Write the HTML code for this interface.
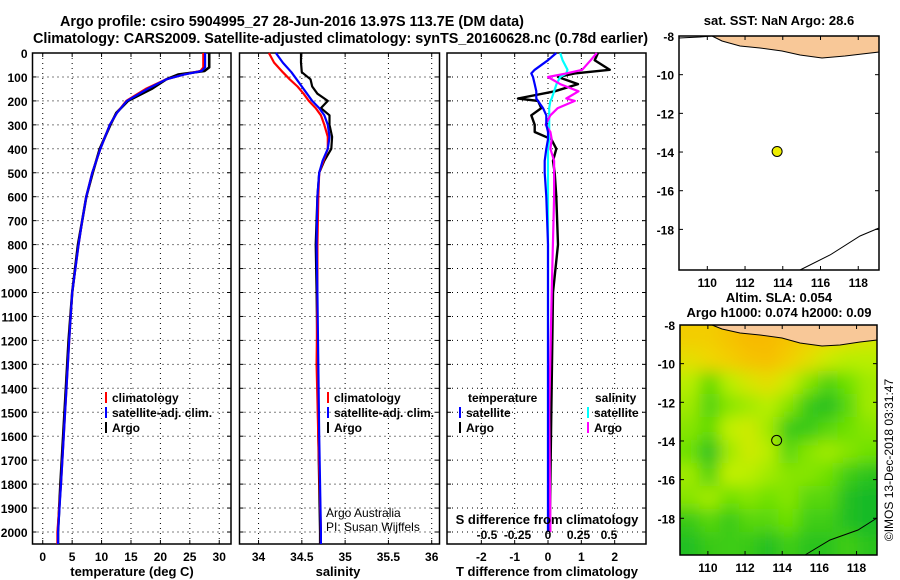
<!DOCTYPE html>
<html><head><meta charset="utf-8"><style>
html,body{margin:0;padding:0;background:#fff;}
svg{display:block;font-family:"Liberation Sans",sans-serif;}
.t{font-weight:bold;font-size:13px;}
.tt{font-weight:bold;font-size:14.4px;}
.tk{font-weight:bold;font-size:12px;}
.lg{font-weight:bold;font-size:12px;}
</style></head><body>
<svg id="chart" width="900" height="580" viewBox="0 0 900 580" xmlns="http://www.w3.org/2000/svg">
<defs>
<filter id="blur" x="0" y="0" width="1" height="1"><feGaussianBlur stdDeviation="8"/></filter>
<clipPath id="m2clip"><rect x="680" y="325" width="197" height="230"/></clipPath>
</defs>
<text class="tt" x="60" y="26">Argo profile: csiro 5904995_27 28-Jun-2016 13.97S 113.7E (DM data)</text>
<text class="tt" x="33" y="43" textLength="615">Climatology: CARS2009. Satellite-adjusted climatology: synTS_20160628.nc (0.78d earlier)</text>
<g id="p1"></g>
<g id="p2"></g>
<g id="p3"></g>
<g id="m1"></g>
<g id="m2"></g>
<text class="tk" x="0" y="0" transform="translate(893,460) rotate(-90)" text-anchor="middle" style="font-weight:normal">©IMOS 13-Dec-2018 03:31:47</text>
</svg>
<script>
// ---- data ----
const depthTicks = [0,100,200,300,400,500,600,700,800,900,1000,1100,1200,1300,1400,1500,1600,1700,1800,1900,2000];
const tempTicks = [0,5,10,15,20,25,30];
const salTicks = [34,34.5,35,35.5,36];
const salTickLabels = ["34","34.5","35","35.5","36"];
const tdiffTicks = [-2,-1,0,1,2];
const sdiffTicks = [-0.5,-0.25,0,0.25,0.5];
const sdiffTickLabels = ["-0.5","-0.25","0","0.25","0.5"];

const tDepth = [0,60,75,90,110,150,200,250,300,400,500,600,700,800,1000,1200,1500,1800,2000,2050];
const tempArgo = [28.3,28.3,27.5,23,21,18.5,14.5,12.5,11.5,9.7,8.5,7.4,6.7,6,5,4.4,3.7,3,2.6,2.6];
const tempClim = [27.3,27.3,26.8,24,21,17.5,14.2,12.6,11.4,9.8,8.4,7.4,6.7,6.1,5,4.5,3.8,3.1,2.5,2.5];
const tempSat  = [27.6,27.6,27,24,21,17.8,14.3,12.6,11.4,9.8,8.4,7.4,6.7,6.1,5,4.5,3.8,3.1,2.6,2.6];

const sDepth = [0,40,80,110,140,170,200,230,260,300,350,400,450,500,600,800,1000,1300,1600,2000,2050];
const salArgo = [34.49,34.49,34.5,34.6,34.62,34.68,34.8,34.72,34.82,34.82,34.85,34.84,34.76,34.7,34.68,34.66,34.67,34.68,34.69,34.71,34.71];
const salClim = [34.12,34.18,34.28,34.36,34.45,34.52,34.58,34.66,34.72,34.76,34.8,34.8,34.75,34.7,34.69,34.68,34.68,34.67,34.69,34.72,34.72];
const salSat  = [34.2,34.28,34.38,34.44,34.5,34.56,34.62,34.7,34.76,34.8,34.82,34.8,34.74,34.7,34.68,34.67,34.68,34.69,34.7,34.72,34.72];

const dDepth = [0,30,70,85,100,130,160,190,200,230,260,300,330,360,400,450,500,600,800,1000,1500,2000];
const tdiffArgo = [1.5,1.4,1.85,0.8,0.3,0.9,0.2,-0.9,-0.3,-0.2,-0.5,-0.4,-0.4,0.1,0.25,0.15,0.2,0.25,0.3,0.15,0.1,0.05];
const tdiffSat  = [0.25,0,-0.4,-0.5,-0.45,-0.4,-0.35,-0.35,-0.3,-0.15,-0.05,-0.05,0,0,-0.05,-0.1,-0.1,-0.05,0,0,0,0];
const sdiffArgo = [0.4,0.35,0.28,0.15,0,0.1,0.25,0.15,0.22,0.08,0.02,-0.02,0.02,0.03,0.02,0.05,0.05,0.05,0.04,0.03,0.01,0.02];
const sdiffSat  = [0.1,0.12,0.16,0.15,0.1,0.07,0.05,0.03,0.02,0.01,0.01,0.01,0.01,0.01,0,0,0,0,0,0,0,0];

const lonTicks = [110,112,114,116,118];
const latTicks = [-8,-10,-12,-14,-16,-18];
const argoLon = [113.7];
const argoLat = [-13.97];
// SLA field (rows north->south, cols west->east), normalized 0..1
const slaGrid = [
 [.85,.85,.9,.95,.95,.9,.85,.8,.75,.7],
 [.75,.8,.85,.9,.92,.85,.75,.65,.6,.6],
 [.6,.42,.6,.7,.75,.65,.5,.38,.45,.55],
 [.55,.38,.5,.55,.6,.5,.33,.28,.4,.55],
 [.5,.42,.62,.66,.55,.33,.33,.4,.45,.5],
 [.45,.28,.55,.66,.6,.4,.5,.55,.5,.45],
 [.55,.38,.62,.6,.55,.5,.5,.45,.35,.3],
 [.5,.56,.45,.5,.45,.5,.4,.4,.28,.22],
 [.33,.4,.33,.4,.4,.45,.35,.35,.28,.22],
 [.28,.33,.35,.33,.28,.35,.3,.3,.35,.3]
];

// ---- helpers ----
const NS="http://www.w3.org/2000/svg";
function mk(parent,tag,attrs,txt){const e=document.createElementNS(NS,tag);for(const k in attrs)e.setAttribute(k,attrs[k]);if(txt!==undefined)e.textContent=txt;parent.appendChild(e);return e;}
const TOP=53, BOT=544;
const yD = d => TOP + d*(532-TOP)/2000;

function panel(g,x0,x1,xmin,xmax,xt,xtl,showDepth){
  const sx=v=>x0+(v-xmin)*(x1-x0)/(xmax-xmin);
  for(const d of depthTicks){
    const gl=mk(g,'line',{x1:x0,x2:x1,y1:yD(d),y2:yD(d),stroke:'#000','stroke-width':1,'stroke-dasharray':'1,4'});
    
    
    mk(g,'line',{x1:x0,x2:x0+4,y1:yD(d),y2:yD(d),stroke:'#000'});
    mk(g,'line',{x1:x1-4,x2:x1,y1:yD(d),y2:yD(d),stroke:'#000'});
    if(showDepth){const t=mk(g,'text',{x:x0-5,y:yD(d)+5,'text-anchor':'end',class:'tk'},String(d));
      
      }
  }
  xt.forEach((v,i)=>{
    mk(g,'line',{x1:sx(v),x2:sx(v),y1:TOP,y2:BOT,stroke:'#000','stroke-dasharray':'1,4'});
    mk(g,'line',{x1:sx(v),x2:sx(v),y1:BOT-4,y2:BOT,stroke:'#000'});
    mk(g,'line',{x1:sx(v),x2:sx(v),y1:TOP,y2:TOP+4,stroke:'#000'});
    if(xtl){const t=mk(g,'text',{x:sx(v),y:BOT+17,'text-anchor':'middle',class:'tk'},xtl[i]);
      
      }
  });
  const fr=mk(g,'rect',{x:x0,y:TOP,width:x1-x0,height:BOT-TOP,fill:'none',stroke:'#000','stroke-width':1.5});
  
  
  return sx;
}
function line(g,sx,depths,vals,color,name,w){
  const pts=depths.map((d,i)=>sx(vals[i]).toFixed(1)+','+yD(d).toFixed(1)).join(' ');
  const p=mk(g,'polyline',{points:pts,fill:'none',stroke:color,'stroke-width':w||2.2,'stroke-linejoin':'round'});
  
  
}
function legend(g,x,y,color,label){
  mk(g,'line',{x1:x,x2:x,y1:y-10,y2:y+1,stroke:color,'stroke-width':2});
  const t=mk(g,'text',{x:x+6,y:y,class:'lg'},label);
  
  
}

// panel 1
const p1=document.getElementById('p1');
const sx1=panel(p1,32.5,231,-1.74,32.0,tempTicks,tempTicks.map(String),true);
line(p1,sx1,tDepth,tempArgo,'#000','temp-argo-line',2.6);
line(p1,sx1,tDepth,tempClim,'#f00','temp-climatology-line');
line(p1,sx1,tDepth,tempSat,'#00f','temp-satellite-line');
mk(p1,'text',{x:132,y:576,'text-anchor':'middle',class:'t'},'temperature (deg C)');
legend(p1,106,402,'#f00','climatology');
legend(p1,106,417,'#00f','satellite-adj. clim.');
legend(p1,106,432,'#000','Argo');

// panel 2
const p2=document.getElementById('p2');
const sx2=panel(p2,239.5,439.5,33.78,36.09,salTicks,salTickLabels,false);
line(p2,sx2,sDepth,salArgo,'#000','sal-argo-line',2.2);
line(p2,sx2,sDepth,salClim,'#f00','sal-climatology-line');
line(p2,sx2,sDepth,salSat,'#00f','sal-satellite-line');
mk(p2,'text',{x:338,y:576,'text-anchor':'middle',class:'t'},'salinity');
legend(p2,328,402,'#f00','climatology');
legend(p2,328,417,'#00f','satellite-adj. clim.');
legend(p2,328,432,'#000','Argo');
mk(p2,'text',{x:326,y:517,style:'font-size:12px'},'Argo Australia');
mk(p2,'text',{x:326,y:531,style:'font-size:12px'},'PI: Susan Wijffels');

// panel 3
const p3=document.getElementById('p3');
const sx3=panel(p3,447,646,-3.03,2.94,tdiffTicks,tdiffTicks.map(String),false);
const sxS=v=>548+v*(607-485);
line(p3,sx3,dDepth,tdiffArgo,'#000','tdiff-argo-line',2.4);
line(p3,sxS,dDepth,sdiffSat,'#0ff','sdiff-satellite-line');
line(p3,sxS,dDepth,sdiffArgo,'#f0f','sdiff-argo-line');
line(p3,sx3,dDepth,tdiffSat,'#00f','tdiff-satellite-line');
sdiffTicks.forEach((v,i)=>{const t=mk(p3,'text',{x:sxS(v),y:539,'text-anchor':'middle',class:'tk'},sdiffTickLabels[i]);
  
  });
mk(p3,'text',{x:547,y:524,'text-anchor':'middle',class:'t'},'S difference from climatology');
mk(p3,'text',{x:547,y:576,'text-anchor':'middle',class:'t'},'T difference from climatology');
mk(p3,'text',{x:468,y:402,class:'lg'},'temperature');
legend(p3,460,417,'#00f','satellite');
legend(p3,460,432,'#000','Argo');
mk(p3,'text',{x:595,y:402,class:'lg'},'salinity');
legend(p3,588,417,'#0ff','satellite');
legend(p3,588,432,'#f0f','Argo');

// maps
function mapAxes(g,x0,x1,y0,y1,lon0,lon1,lat0,lat1){
  const mx=v=>x0+(v-lon0)*(x1-x0)/(lon1-lon0);
  const my=v=>y0+(lat0-v)*(y1-y0)/(lat0-lat1);
  return [mx,my];
}
function mapFrame(g,x0,x1,y0,y1,mx,my){
  mk(g,'rect',{x:x0,y:y0,width:x1-x0,height:y1-y0,fill:'none',stroke:'#000','stroke-width':1.5});
  lonTicks.forEach(v=>{mk(g,'line',{x1:mx(v),x2:mx(v),y1:y1-4,y2:y1,stroke:'#000'});mk(g,'line',{x1:mx(v),x2:mx(v),y1:y0,y2:y0+4,stroke:'#000'});
    const t=mk(g,'text',{x:mx(v),y:y1+17,'text-anchor':'middle',class:'tk'},String(v));
    
    });
  latTicks.forEach(v=>{mk(g,'line',{x1:x0,x2:x0+4,y1:my(v),y2:my(v),stroke:'#000'});mk(g,'line',{x1:x1-4,x2:x1,y1:my(v),y2:my(v),stroke:'#000'});
    const t=mk(g,'text',{x:x0-5,y:my(v)+5,'text-anchor':'end',class:'tk'},String(v));
    
    });
}
// map 1
const m1=document.getElementById('m1');
const [mx1,my1]=mapAxes(m1,679,879,36,270,108.5,119.1,-8,-20.1);
mk(m1,'polygon',{points:'712,36 879,36 879,52 862,54 845,56 822,58 800,55 782,51 760,48 740,46 722,41',fill:'#f8c898',stroke:'#000','stroke-width':1});
mk(m1,'polyline',{points:'679,38 700,37 712,36',fill:'none',stroke:'#000'});
mk(m1,'polyline',{points:'800,270 830,255 860,236 879,228',fill:'none',stroke:'#000'});
const c1=mk(m1,'circle',{cx:mx1(argoLon[0]),cy:my1(argoLat[0]),r:5,fill:'#ee0',stroke:'#000'});


mapFrame(m1,679,879,36,270,mx1,my1);
mk(m1,'text',{x:779,y:25,'text-anchor':'middle',class:'t'},'sat. SST: NaN Argo: 28.6');

// map 2
const m2=document.getElementById('m2');
const [mx2,my2]=mapAxes(m2,680,877,325,555,108.5,119.1,-8,-19.9);
function ramp(v){
  const stops=[[0.25,[20,185,40]],[0.45,[110,225,0]],[0.62,[195,240,0]],[0.8,[240,215,0]],[0.95,[248,185,0]]];
  if(v<=stops[0][0])return 'rgb('+stops[0][1]+')';
  for(let i=1;i<stops.length;i++){if(v<=stops[i][0]){const a=stops[i-1],b=stops[i],f=(v-a[0])/(b[0]-a[0]);
    return 'rgb('+a[1].map((c,k)=>Math.round(c+(b[1][k]-c)*f)).join(',')+')';}}
  return 'rgb('+stops[stops.length-1][1]+')';
}
const hg=mk(m2,'g',{'clip-path':'url(#m2clip)'});
const hb=mk(hg,'g',{filter:'url(#blur)'});
const nr=slaGrid.length,nc=slaGrid[0].length,cw=(877-680)/nc,ch=(555-325)/nr;
slaGrid.forEach((row,r)=>row.forEach((v,c)=>{
  const cell=mk(hb,'rect',{x:680+c*cw-(c==0?20:0),y:325+r*ch-(r==0?20:0),width:cw+1+(c==0||c==nc-1?20:0),height:ch+1+(r==0||r==nr-1?20:0),fill:ramp(v)});
  
  
}));
mk(m2,'polygon',{points:'712,325 877,325 877,340 860,342 840,345 822,346 800,343 782,338 760,335 740,333 722,329',fill:'#f8c898',stroke:'#000','stroke-width':1});
mk(m2,'polyline',{points:'805,555 830,540 858,530 877,518',fill:'none',stroke:'#000'});
const c2=mk(m2,'circle',{cx:mx2(argoLon[0]),cy:my2(argoLat[0]),r:5,fill:'none',stroke:'#000'});


mapFrame(m2,680,877,325,555,mx2,my2);
mk(m2,'text',{x:779,y:302,'text-anchor':'middle',class:'t'},'Altim. SLA: 0.054');
mk(m2,'text',{x:779,y:317,'text-anchor':'middle',class:'t'},'Argo h1000: 0.074 h2000: 0.09');
</script>
</body></html>
